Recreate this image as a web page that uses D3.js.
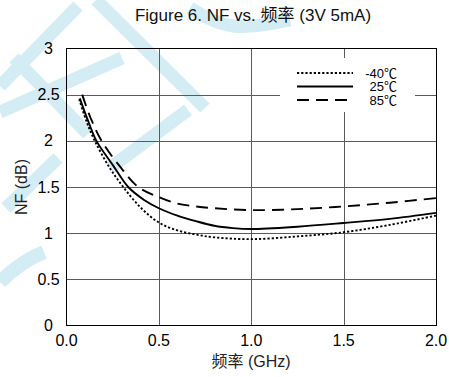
<!DOCTYPE html>
<meta charset="utf-8">
<style>
    body { margin: 0; background: #fff; }
    text { font-family: "Liberation Sans", Arial, "Noto Sans CJK SC", sans-serif; fill: #000; }
    .grid line { stroke: #5a5a5a; stroke-width: 1; shape-rendering: crispEdges; }
    .frame { fill: none; stroke: #000; stroke-width: 1; shape-rendering: crispEdges; }
    .curve { fill: none; stroke: #000; }
    .wm { fill: none; stroke: #d4ecf3; stroke-linecap: butt; }
</style>
<body>
<script src="https://cdn.jsdelivr.net/npm/d3@7"></script>
<script>

    // frequency (GHz) / NF (dB)
    var freqCold = [0.069, 0.11, 0.153, 0.23, 0.307, 0.4, 0.5, 0.6, 0.7, 0.8, 1.0, 1.25, 1.5, 1.75, 2.0];
    var nfCold   = [2.45, 2.2, 2.0, 1.72, 1.5, 1.28, 1.115, 1.03, 0.985, 0.955, 0.935, 0.965, 1.01, 1.09, 1.19];

    var freqRoom = [0.072, 0.12, 0.162, 0.25, 0.334, 0.42, 0.5, 0.6, 0.7, 0.8, 0.9, 1.0, 1.25, 1.5, 1.75, 2.0];
    var nfRoom   = [2.46, 2.2, 2.0, 1.74, 1.5, 1.36, 1.27, 1.19, 1.13, 1.08, 1.055, 1.045, 1.07, 1.11, 1.155, 1.22];

    var freqHot  = [0.085, 0.13, 0.19, 0.29, 0.388, 0.5, 0.6, 0.7, 0.8, 1.0, 1.25, 1.5, 1.75, 2.0];
    var nfHot    = [2.5, 2.25, 2.0, 1.72, 1.5, 1.39, 1.32, 1.29, 1.27, 1.25, 1.26, 1.29, 1.33, 1.38];

    var seriesNames = ["-40℃", "25℃", "85℃"];
    var xTicks = [0, 0.5, 1.0, 1.5, 2.0];
    var yTicks = [0, 0.5, 1, 1.5, 2, 2.5, 3];

    var W = 449, H = 377;
    var margin = {top: 48.5, right: 13, bottom: 51.5, left: 66.5};

    var x = d3.scaleLinear().domain([0, 2]).range([margin.left, W - margin.right]);
    var y = d3.scaleLinear().domain([0, 3]).range([H - margin.bottom, margin.top]);

    var svg = d3.select("body").append("svg")
            .attr("width", W)
            .attr("height", H);

    // faint watermark strokes in the background
    var wm = svg.append("g").attr("class", "wm");
    var wmPaths = [
        [[0, 86], [78, 6]],
        [[14, 58], [88, 134]],
        [[96, 0], [205, 108]],
        [[0, 112], [122, 58]],
        [[6, 208], [58, 158]],
        [[110, 168], [188, 110]],
        [[190, 8], [230, 32], [290, 20]]
    ];
    wmPaths.forEach(function(p) {
        wm.append("path")
            .attr("d", d3.line().curve(d3.curveBasis)(p))
            .attr("stroke-width", 13);
    });
    wm.append("path")
        .attr("d", "M0,282 Q20,262 44,252")
        .attr("stroke-width", 14);

    var grid = svg.append("g").attr("class", "grid");
    grid.selectAll("line.v")
        .data(xTicks.slice(1, -1))
        .enter().append("line")
            .attr("x1", function(d) { return Math.round(x(d)) + 0.5; })
            .attr("x2", function(d) { return Math.round(x(d)) + 0.5; })
            .attr("y1", y(3))
            .attr("y2", y(0));
    grid.selectAll("line.h")
        .data(yTicks.slice(1, -1))
        .enter().append("line")
            .attr("y1", function(d) { return Math.round(y(d)) + 0.5; })
            .attr("y2", function(d) { return Math.round(y(d)) + 0.5; })
            .attr("x1", x(0))
            .attr("x2", x(2));

    svg.append("rect")
        .attr("class", "frame")
        .attr("x", x(0))
        .attr("y", y(3))
        .attr("width", x(2) - x(0))
        .attr("height", y(0) - y(3));

    // legend box masks the grid
    svg.append("rect")
        .attr("x", 280)
        .attr("y", 58)
        .attr("width", 135)
        .attr("height", 54)
        .attr("fill", "#fff");

    var line = d3.line()
            .x(function(d) { return x(d[0]); })
            .y(function(d) { return y(d[1]); })
            .curve(d3.curveCatmullRom.alpha(0.5));

    var series = [
        {f: freqCold, v: nfCold, dash: "2.2,2", w: 1.9},
        {f: freqRoom, v: nfRoom, dash: null, w: 1.9},
        {f: freqHot,  v: nfHot,  dash: "12,7", w: 1.9}
    ];

    series.forEach(function(s, i) {
        svg.append("path")
            .attr("class", "curve")
            .attr("d", line(d3.zip(s.f, s.v)))
            .attr("stroke-width", s.w)
            .attr("stroke-dasharray", s.dash);

        var ly = 73 + i * 13.5;
        svg.append("line")
            .attr("class", "curve")
            .attr("x1", 297).attr("x2", 353)
            .attr("y1", ly).attr("y2", ly)
            .attr("stroke", "#000")
            .attr("stroke-width", s.w)
            .attr("stroke-dasharray", s.dash);
        svg.append("text")
            .attr("x", 397)
            .attr("y", ly)
            .attr("dy", "0.35em")
            .attr("text-anchor", "end")
            .style("font-size", "13px")
            .text(seriesNames[i]);
    });

    // tick labels
    svg.append("g").selectAll("text")
        .data(xTicks)
        .enter().append("text")
            .attr("x", function(d) { return x(d); })
            .attr("y", 340)
            .attr("dy", "0.35em")
            .attr("text-anchor", "middle")
            .style("font-size", "16px")
            .text(d3.format(".1f"));

    // y labels are centred on a column, not right-aligned
    svg.append("g").selectAll("text")
        .data(yTicks)
        .enter().append("text")
            .attr("x", 48.5)
            .attr("y", function(d) { return y(d); })
            .attr("dy", "0.35em")
            .attr("text-anchor", "middle")
            .style("font-size", "16px")
            .text(function(d) { return String(d); });

    svg.append("text")
        .attr("x", 251)
        .attr("y", 361)
        .attr("dy", "0.35em")
        .attr("text-anchor", "middle")
        .style("font-size", "16px")
        .style("fill", "#222")
        .text("频率 (GHz)");

    svg.append("text")
        .attr("transform", "translate(21,187) rotate(-90)")
        .attr("dy", "0.35em")
        .attr("text-anchor", "middle")
        .style("font-size", "16px")
        .style("fill", "#222")
        .text("NF (dB)");

    svg.append("text")
        .attr("x", 253)
        .attr("y", 15)
        .attr("dy", "0.35em")
        .attr("text-anchor", "middle")
        .style("font-size", "17px")
        .style("fill", "#111")
        .text("Figure 6. NF vs. 频率 (3V 5mA)");

</script>
